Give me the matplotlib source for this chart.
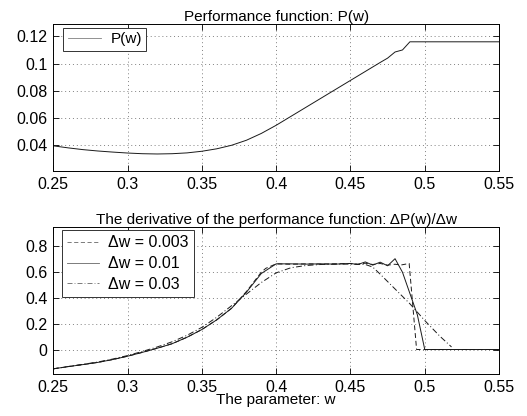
'''Performance function and its finite-difference derivative.'''

# ----------------------------------------------------------------------------
# Modules
from matplotlib import pyplot as plt

plt.rcParams['font.family'] = ['Liberation Sans', 'DejaVu Sans']

# ----------------------------------------------------------------------------
# Data

w_perf = [0.25, 0.26, 0.27, 0.28, 0.29, 0.30, 0.31, 0.32, 0.33, 0.34, 0.35,
          0.36, 0.37, 0.38, 0.39, 0.40, 0.41, 0.42, 0.43, 0.44, 0.45, 0.46,
          0.47, 0.475, 0.48, 0.485, 0.49, 0.55]
p_perf = [0.0395, 0.0380, 0.0367, 0.0357, 0.0349, 0.0342, 0.0337, 0.0335,
          0.0337, 0.0343, 0.0355, 0.0373, 0.0399, 0.0436, 0.0486, 0.0546,
          0.0612, 0.0678, 0.0744, 0.0810, 0.0876, 0.0942, 0.1008, 0.1040,
          0.1085, 0.1100, 0.1160, 0.1160]

# dw = 0.003 (dashed)
w_d003 = [0.25, 0.26, 0.27, 0.28, 0.29, 0.30, 0.31, 0.32, 0.33, 0.34, 0.35,
          0.36, 0.37, 0.38, 0.39, 0.393, 0.40, 0.41, 0.42, 0.43, 0.44, 0.45,
          0.455, 0.46, 0.465, 0.47, 0.475, 0.48, 0.484, 0.4895, 0.4945,
          0.55]
d_d003 = [-0.150, -0.133, -0.117, -0.100, -0.078, -0.052, -0.022, 0.010,
          0.045, 0.095, 0.155, 0.230, 0.320, 0.450, 0.600, 0.630, 0.665,
          0.662, 0.665, 0.663, 0.665, 0.668, 0.662, 0.670, 0.660, 0.668,
          0.655, 0.662, 0.656, 0.668, 0.0, 0.0]

# dw = 0.01 (solid)
w_d01 = [0.25, 0.26, 0.27, 0.28, 0.29, 0.30, 0.31, 0.32, 0.33, 0.34, 0.35,
         0.36, 0.37, 0.38, 0.39, 0.40, 0.41, 0.42, 0.43, 0.44, 0.45, 0.455,
         0.46, 0.465, 0.47, 0.475, 0.48, 0.485, 0.495, 0.50, 0.55]
d_d01 = [-0.150, -0.133, -0.117, -0.100, -0.078, -0.052, -0.022, 0.010,
         0.045, 0.095, 0.155, 0.230, 0.320, 0.445, 0.590, 0.665, 0.665,
         0.663, 0.665, 0.663, 0.668, 0.660, 0.680, 0.655, 0.678, 0.650,
         0.705, 0.600, 0.270, 0.0, 0.0]

# dw = 0.03 (dash-dot)
w_d03 = [0.25, 0.26, 0.27, 0.28, 0.29, 0.30, 0.31, 0.32, 0.33, 0.34, 0.35,
         0.36, 0.37, 0.38, 0.39, 0.40, 0.41, 0.42, 0.43, 0.44, 0.45, 0.46,
         0.465, 0.47, 0.48, 0.49, 0.50, 0.51, 0.518]
d_d03 = [-0.150, -0.132, -0.115, -0.097, -0.074, -0.047, -0.015, 0.020,
         0.060, 0.110, 0.172, 0.250, 0.340, 0.430, 0.520, 0.595, 0.635,
         0.652, 0.660, 0.663, 0.663, 0.660, 0.640, 0.585, 0.470, 0.355,
         0.225, 0.105, 0.02]

x_ticks = [0.25, 0.3, 0.35, 0.4, 0.45, 0.5, 0.55]
x_tick_labels = ['0.25', '0.3', '0.35', '0.4', '0.45', '0.5', '0.55']
top_y_ticks = [0.04, 0.06, 0.08, 0.1, 0.12]
top_y_tick_labels = ['0.04', '0.06', '0.08', '0.1', '0.12']
bot_y_ticks = [0, 0.2, 0.4, 0.6, 0.8]
bot_y_tick_labels = ['0', '0.2', '0.4', '0.6', '0.8']

FS = 11
TICK_FS = 11.5
LEG_FS = 11.5
LINE = '0.1'

# ----------------------------------------------------------------------------


def style_axes(ax):
    """Matlab-like look: inward ticks on every side, dotted grid."""

    ax.tick_params(direction='in', top=True, right=True, length=4,
                   width=0.6, labelsize=TICK_FS, pad=4)
    ax.grid(True, linestyle=(0, (1, 3)), color='0.5', linewidth=0.7)
    for spine in ax.spines.values():
        spine.set_linewidth(0.7)

    return None

# ----------------------------------------------------------------------------


def main():
    """Draws both panels and saves out.png."""

    fig = plt.figure(figsize=(5.27, 4.16), dpi=100)

    # Performance function
    ax1 = fig.add_axes([0.101, 0.589, 0.846, 0.353])
    ax1.plot(w_perf, p_perf, color=LINE, linewidth=0.7, label='P(w)')
    ax1.set_xlim(0.25, 0.55)
    ax1.set_ylim(0.021, 0.129)
    ax1.set_xticks(x_ticks, x_tick_labels)
    ax1.set_yticks(top_y_ticks, top_y_tick_labels)
    ax1.set_title('Performance function: P(w)', fontsize=FS, pad=2)
    style_axes(ax1)
    leg1 = ax1.legend(loc='upper left', bbox_to_anchor=(0.022, 0.975),
                      fontsize=FS, fancybox=False, edgecolor='0.2',
                      framealpha=1, handlelength=2.2, handletextpad=0.6,
                      borderaxespad=0, borderpad=0.3)
    leg1.get_frame().set_linewidth(0.7)
    leg1.get_lines()[0].set_color('0.5')
    leg1.get_lines()[0].set_linewidth(0.6)

    # Derivative
    ax2 = fig.add_axes([0.101, 0.101, 0.846, 0.353])
    ax2.plot(w_d003, d_d003, color=LINE, linewidth=0.7, linestyle='--',
             dashes=(5, 3), label='Δw = 0.003')
    ax2.plot(w_d01, d_d01, color=LINE, linewidth=0.7,
             label='Δw = 0.01')
    ax2.plot(w_d03, d_d03, color=LINE, linewidth=0.7, linestyle='-.',
             dashes=(6, 2.5, 1, 2.5), label='Δw = 0.03')
    ax2.set_xlim(0.25, 0.55)
    ax2.set_ylim(-0.19, 0.95)
    ax2.set_xticks(x_ticks, x_tick_labels)
    ax2.set_yticks(bot_y_ticks, bot_y_tick_labels)
    ax2.set_title('The derivative of the performance function: ΔP(w)/Δw',
                  fontsize=FS, pad=2)
    ax2.set_xlabel('The parameter: w', fontsize=FS, labelpad=-1)
    style_axes(ax2)
    leg2 = ax2.legend(loc='upper left', bbox_to_anchor=(0.019, 0.98),
                      fontsize=LEG_FS, fancybox=False, edgecolor='0.2',
                      framealpha=1, handlelength=2.0, handletextpad=0.6,
                      borderaxespad=0, borderpad=0.33, labelspacing=0.36)
    leg2.get_frame().set_linewidth(0.7)
    for line in leg2.get_lines():
        line.set_color('0.4')
        line.set_linewidth(0.6)

    plt.savefig('out.png', dpi=100)

    return None

# ----------------------------------------------------------------------------


if __name__ == '__main__':
    main()
